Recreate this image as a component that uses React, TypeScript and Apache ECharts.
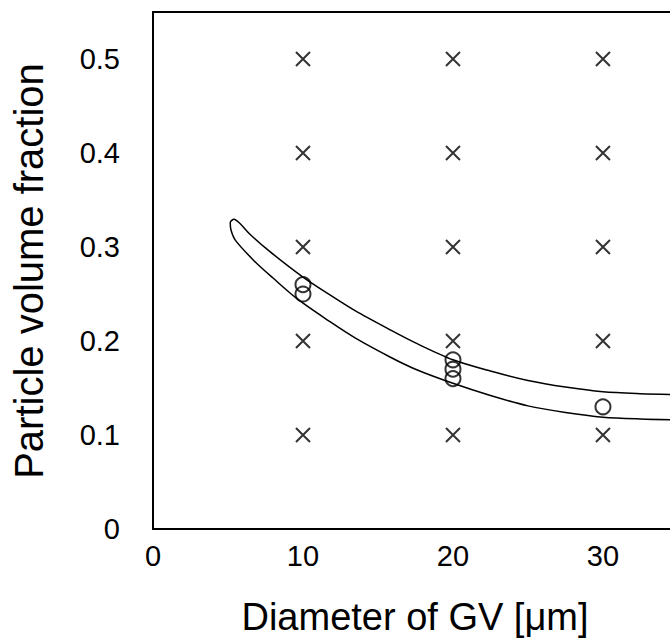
import React, { useEffect, useRef } from "react";
import * as echarts from "echarts";

const xTicks = [0, 10, 20, 30];
const yTicks = [0, 0.1, 0.2, 0.3, 0.4, 0.5];

const crossX = [10, 20, 30];
const crossY = [0.1, 0.2, 0.3, 0.4, 0.5];

const circlePoints: [number, number][] = [
  [10, 0.26],
  [10, 0.25],
  [20, 0.18],
  [20, 0.17],
  [20, 0.16],
  [30, 0.13],
];

const upperBoundary: [number, number][] = [
  [35, 0.143], [32.5, 0.144], [30, 0.146], [27.5, 0.151], [25, 0.158],
  [22.5, 0.168], [20, 0.18], [17.5, 0.198], [15.8, 0.212], [13.5, 0.232],
  [11.8, 0.249], [10, 0.268], [7.8, 0.295], [6.5, 0.313], [5.8, 0.325],
  [5.4, 0.3295], [5.15, 0.326],
];

const lowerBoundary: [number, number][] = [
  [5.2, 0.318], [5.5, 0.307], [6.7, 0.286], [8, 0.267], [9.6, 0.245],
  [11.8, 0.2205], [13.5, 0.203], [15.8, 0.183], [17.5, 0.17], [20, 0.155],
  [22.5, 0.142], [25, 0.131], [27.5, 0.124], [30, 0.119], [32.5, 0.117],
  [35, 0.116],
];

const X_MIN = 0;
const X_MAX = 34.47;
const Y_MIN = 0;
const Y_MAX = 0.55;

const FONT = "'Liberation Sans', Arial, sans-serif";

export default function App() {
  const ref = useRef<HTMLDivElement>(null);
  useEffect(() => {
    if (!ref.current) return;
    const chart = echarts.init(ref.current, null, { renderer: "svg" });
    const crosses: [number, number][] = [];
    crossX.forEach((x) => crossY.forEach((y) => crosses.push([x, y])));
    const axisLine = { show: true, lineStyle: { color: "#000", width: 2 } };
    chart.setOption({
      animation: false,
      backgroundColor: "#fff",
      grid: { left: 153, top: 12, right: 0, bottom: 115 },
      xAxis: [
        {
          type: "value",
          min: X_MIN,
          max: X_MAX,
          interval: 10,
          axisLine,
          axisTick: { show: false },
          splitLine: { show: false },
          axisLabel: {
            showMaxLabel: false,
            fontSize: 29,
            color: "#000",
            fontFamily: FONT,
            margin: 12,
            formatter: (v: number) => (xTicks.includes(v) ? String(v) : ""),
          },
        },
        {
          type: "value",
          position: "top",
          min: X_MIN,
          max: X_MAX,
          axisLine,
          axisTick: { show: false },
          axisLabel: { show: false },
          splitLine: { show: false },
        },
      ],
      yAxis: {
        type: "value",
        min: Y_MIN,
        max: Y_MAX,
        interval: 0.1,
        axisLine,
        axisTick: { show: false },
        splitLine: { show: false },
        axisLabel: {
          showMaxLabel: false,
          fontSize: 29,
          color: "#000",
          fontFamily: FONT,
          margin: 33,
          formatter: (v: number) => {
            const t = yTicks.find((k) => Math.abs(k - v) < 1e-9);
            return t === undefined ? "" : String(t);
          },
        },
      },
      graphic: [
        {
          type: "text",
          x: 415,
          y: 617,
          style: {
            text: "Diameter of GV [μm]",
            font: `38px ${FONT}`,
            fill: "#000",
            textAlign: "center",
            textVerticalAlign: "middle",
          },
        },
        {
          type: "text",
          x: 29,
          y: 271,
          rotation: Math.PI / 2,
          style: {
            text: "Particle volume fraction",
            font: `40px ${FONT}`,
            fill: "#000",
            textAlign: "center",
            textVerticalAlign: "middle",
          },
        },
      ],
      series: [
        {
          type: "line",
          data: [...upperBoundary, ...lowerBoundary],
          smooth: 0.3,
          symbol: "none",
          clip: true,
          lineStyle: { color: "#000", width: 1.5 },
          silent: true,
        },
        {
          type: "scatter",
          data: crosses,
          symbol: "path://M0,0L10,10M10,0L0,10",
          symbolSize: 14,
          itemStyle: { color: "transparent", borderColor: "#000", borderWidth: 2 },
        },
        {
          type: "scatter",
          data: circlePoints,
          symbol: "circle",
          symbolSize: 15,
          itemStyle: { color: "transparent", borderColor: "#000", borderWidth: 2 },
        },
      ],
    });
    return () => chart.dispose();
  }, []);
  return (
    <div
      ref={ref}
      style={{ position: "fixed", left: 0, top: 0, width: 670, height: 644 }}
    />
  );
}
